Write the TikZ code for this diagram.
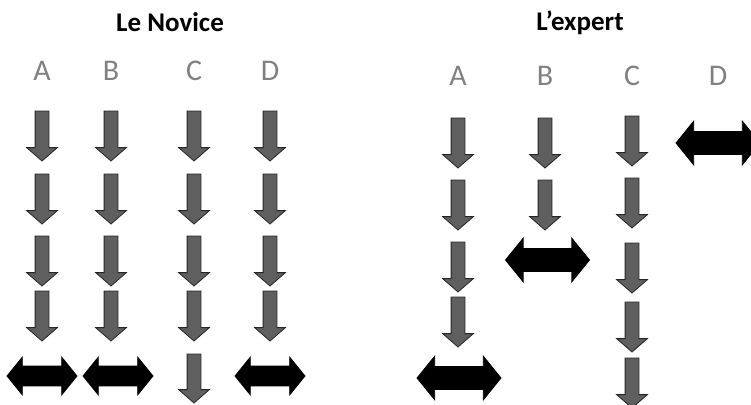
\documentclass[tikz,border=0pt]{standalone}
\usepackage{fontspec}
\setmainfont{Carlito}
\usetikzlibrary{shapes.arrows}

\definecolor{arrowgray}{HTML}{5F5F5F}
\definecolor{lettergray}{HTML}{808080}

\tikzset{
    title/.style={font=\fontsize{27}{29}\selectfont\bfseries},
    letter/.style={font=\fontsize{30}{32}\selectfont, text=lettergray},
    downarr/.style={single arrow, draw=black!85, fill=arrowgray, line width=0.8pt,
        shape border rotate=270, minimum height=50pt, minimum width=30pt,
        inner sep=6.5pt, single arrow head extend=8.5pt, single arrow tip angle=98},
    swaparr/.style={double arrow, draw=black, fill=black, line width=0.8pt,
        minimum height=70pt, minimum width=37pt, inner sep=9.5pt,
        double arrow head extend=9pt, double arrow tip angle=102},
    bigswap/.style={swaparr, minimum height=84pt, minimum width=43pt, inner sep=11pt,
        double arrow head extend=10.5pt}
}

\begin{document}
\begin{tikzpicture}[x=1pt, y=-1pt]
    \useasboundingbox (0,0) rectangle (751,404);

    % le novice
    \node[title] (novice) at (170,22) {Le Novice};
    \node[letter] (nA) at (42,71) {A};
    \node[letter] (nB) at (111,71) {B};
    \node[letter] (nC) at (194,71) {C};
    \node[letter] (nD) at (270,71) {D};
    \foreach \col/\x in {A/42, B/111, C/194, D/270} {
        \foreach \row/\y in {1/133, 2/196, 3/258, 4/313} {
            \node[downarr] (n\col\row) at (\x,\y) {};
        }
    }
    \node[swaparr] (nA5) at (42,376) {};
    \node[swaparr] (nB5) at (118,376) {};
    \node[downarr, minimum height=49pt] (nC5) at (194,375.5) {};
    \node[swaparr] (nD5) at (270,376) {};

    % l'expert
    \node[title] (expert) at (580,23) {L’expert};
    \node[letter] (eA) at (458,76) {A};
    \node[letter] (eB) at (545,76) {B};
    \node[letter] (eC) at (632,76) {C};
    \node[letter] (eD) at (718,76) {D};
    \foreach \row/\y in {1/140, 2/202, 3/264, 4/319} {
        \node[downarr] (eA\row) at (458,\y) {};
    }
    \node[bigswap] (eA5) at (459,378) {};
    \foreach \row/\y in {1/140, 2/202} {
        \node[downarr] (eB\row) at (545,\y) {};
    }
    \node[bigswap] (eB3) at (547.5,260) {};
    \foreach \row/\y in {1/138, 2/200, 3/265, 4/324, 5/380} {
        \node[downarr] (eC\row) at (632,\y) {};
    }
    \node[bigswap] (eD1) at (718,143) {};
\end{tikzpicture}
\end{document}
